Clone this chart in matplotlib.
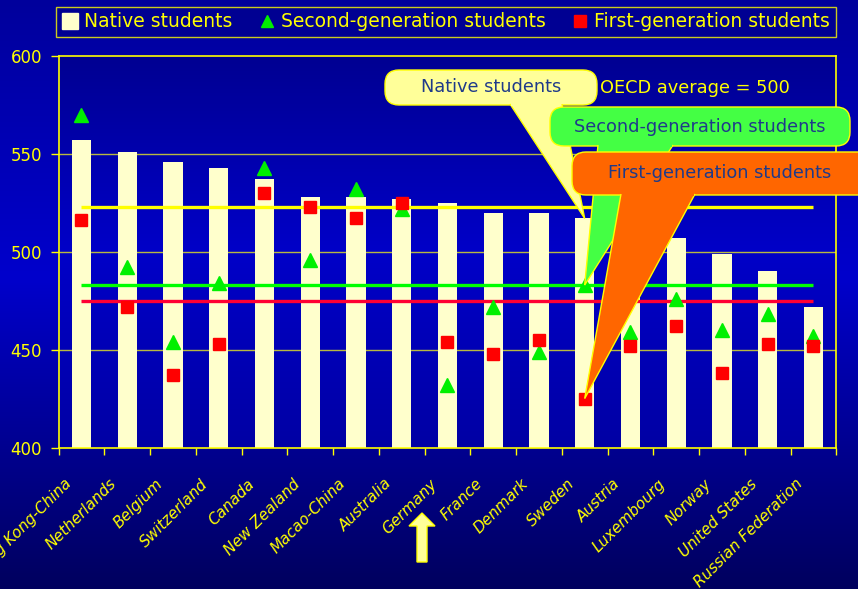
import numpy as np
import matplotlib
matplotlib.use('Agg')
import matplotlib.pyplot as plt
from matplotlib.colors import LinearSegmentedColormap
from matplotlib.patches import FancyBboxPatch, Polygon
from matplotlib.lines import Line2D
from matplotlib.transforms import ScaledTranslation

#Data (PISA scores by immigrant status)
countries = ['Hong Kong-China', 'Netherlands', 'Belgium', 'Switzerland', 'Canada',
             'New Zealand', 'Macao-China', 'Australia', 'Germany', 'France', 'Denmark',
             'Sweden', 'Austria', 'Luxembourg', 'Norway', 'United States', 'Russian Federation']
native = [557, 551, 546, 543, 537, 528, 528, 527, 525, 520, 520, 517, 515, 507, 499, 490, 472]
second_gen = [570, 492, 454, 484, 543, 496, 532, 522, 432, 472, 449, 483, 459, 476, 460, 468, 457]
first_gen = [516, 472, 437, 453, 530, 523, 517, 525, 454, 448, 455, 425, 452, 462, 438, 453, 452]
native_avg = 523
second_avg = 483
first_avg = 475
yticks = [400, 450, 500, 550, 600]

YEL = '#FFFF00'
CREAM = '#FFFFCC'
GREEN = '#00F000'
RED = '#FF0000'
TXT = '#1F3A8A'

fig = plt.figure(figsize=(8.58, 5.89), dpi=100)

#Background gradient for whole figure
bg = fig.add_axes([0, 0, 1, 1], zorder=-10)
bg_cmap = LinearSegmentedColormap.from_list('bg', [(0, '#00009C'), (0.47, '#0000CC'), (1, '#00005E')])
bg.imshow(np.linspace(0, 1, 256).reshape(-1, 1), cmap=bg_cmap, aspect='auto', extent=(0, 1, 0, 1),
          origin='upper')
bg.axis('off')

ax = fig.add_axes([0.0683, 0.2402, 0.9064, 0.6647])
ax.patch.set_alpha(0)
n = len(countries)
x = np.arange(n)
ax.set_xlim(-0.5, n - 0.5)
ax.set_ylim(400, 600)

#Plot area gradient
pa_cmap = LinearSegmentedColormap.from_list('pa', [(0, '#000092'), (0.5, '#0000C8'), (1, '#0000A4')])
ax.imshow(np.linspace(0, 1, 256).reshape(-1, 1), cmap=pa_cmap, aspect='auto',
          extent=(-0.5, n - 0.5, 400, 600), origin='upper', zorder=0)

# Grid
for yv in yticks[1:-1]:
    ax.axhline(yv, color='#B8B840', lw=1, zorder=1)

ax.bar(x, np.array(native) - 400, bottom=400, width=0.42, color=CREAM, zorder=2)
ax.hlines(native_avg, 0, n - 1, color=YEL, lw=2.4, zorder=3)
ax.hlines(second_avg, 0, n - 1, color='#00FF00', lw=2.4, zorder=3)
ax.hlines(first_avg, 0, n - 1, color='#FF0033', lw=2.4, zorder=3)
ax.plot(x, second_gen, '^', color=GREEN, ms=9.5, zorder=4, ls='none')
ax.plot(x, first_gen, 's', color=RED, ms=8.5, zorder=4, ls='none')

# Axes styling
for s in ax.spines.values():
    s.set_color(YEL)
    s.set_linewidth(1.2)
ax.set_yticks(yticks)
ax.tick_params(axis='y', colors=YEL, labelcolor=YEL, labelsize=12, length=6, width=1, pad=6)
ax.set_xticks(np.arange(-0.5, n, 1))
ax.set_xticklabels([])
ax.tick_params(axis='x', which='major', colors=YEL, length=5, width=1)
ax.set_xticks(x, minor=True)
ax.set_xticklabels(countries, minor=True, rotation=45, ha='right', va='top',
                   rotation_mode='anchor', fontstyle='italic', fontsize=11, color=YEL)
ax.tick_params(axis='x', which='minor', length=0, pad=12)
shift = ScaledTranslation(-0.18, -0.12, fig.dpi_scale_trans)
for lab in ax.get_xticklabels(minor=True):
    lab.set_transform(lab.get_transform() + shift)

# Legend
handles = [Line2D([], [], marker='s', color=CREAM, ls='none', ms=11),
           Line2D([], [], marker='^', color=GREEN, ls='none', ms=9),
           Line2D([], [], marker='s', color=RED, ls='none', ms=8)]
leg = fig.legend(handles, ['Native students', 'Second-generation students', 'First-generation students'],
                 loc='lower left', bbox_to_anchor=(0.0653, 0.937, 0.909, 0.055), mode='expand',
                 ncol=3, fontsize=13.5, frameon=True, fancybox=False, handletextpad=0.3,
                 columnspacing=1.0, handlelength=0.9, borderpad=0.3, borderaxespad=0)
leg.get_frame().set_facecolor('#000090')
leg.get_frame().set_edgecolor(YEL)
for t in leg.get_texts():
    t.set_color(YEL)

# Overlay in pixel coords for callouts
ov = fig.add_axes([0, 0, 1, 1], zorder=5)
ov.set_xlim(0, 858)
ov.set_ylim(589, 0)
ov.axis('off')


def to_px(xd, yd):
    return ov.transData.inverted().transform(ax.transData.transform((xd, yd)))


sweden = countries.index('Sweden')


def callout(x0, x1, y0, y1, base0, base1, tip, color, label, tx):
    box = FancyBboxPatch((x0, y0), x1 - x0, y1 - y0, boxstyle='round,pad=0,rounding_size=14',
                         facecolor=color, edgecolor=YEL, lw=1, clip_on=False)
    ov.add_patch(box)
    wedge = Polygon([(base0, y1 - 1), tip, (base1, y1 - 1)], closed=False,
                    facecolor=color, edgecolor=YEL, lw=1, clip_on=False)
    ov.add_patch(wedge)
    # cover the box edge under the wedge base
    ov.add_patch(Polygon([(base0 + 1, y1 - 3), (base1 - 1, y1 - 3), (base1 - 1, y1 + 1), (base0 + 1, y1 + 1)],
                         facecolor=color, edgecolor='none', clip_on=False))
    ov.text(tx, (y0 + y1) / 2, label, color=TXT, fontsize=12.8, ha='center', va='center')


callout(385, 597, 70, 105, 510, 562, to_px(sweden, native[sweden]), '#FFFF99', 'Native students', 491)
ov.text(600, 88, 'OECD average = 500', color=YEL, fontsize=12.8, ha='left', va='center')
callout(550, 850, 107, 146, 598, 673, to_px(sweden, second_gen[sweden]), '#44FF44',
        'Second-generation students', 700)
callout(572, 875, 152, 195, 621, 695, to_px(sweden, first_gen[sweden]), '#FF6600',
        'First-generation students', 720)

# Arrow under Germany
ov.add_patch(Polygon([(417, 562), (417, 526), (409, 526), (422, 513), (435, 526), (427, 526), (427, 562)],
                     facecolor='#FFFF99', edgecolor=YEL, lw=1, clip_on=False))

fig.savefig('out.png', dpi=100)
